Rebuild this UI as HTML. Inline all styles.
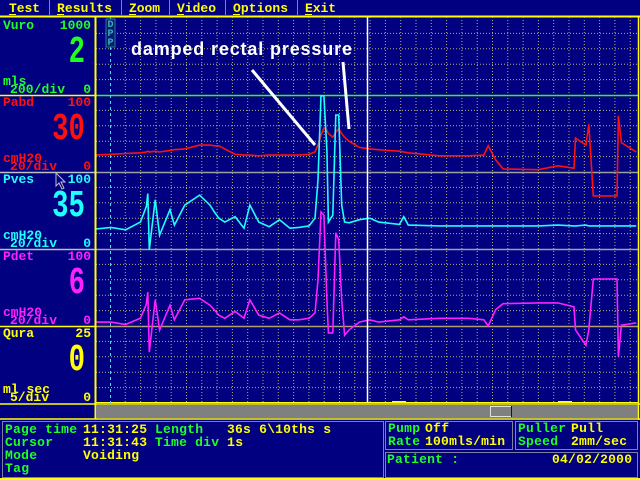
<!DOCTYPE html>
<html><head><meta charset="utf-8"><style>
html,body{margin:0;padding:0;background:#000080;}
svg{display:block;}
text{font-family:"Liberation Mono",monospace;font-weight:bold;}
</style></head><body>
<svg id="chart" width="640" height="480" viewBox="0 0 640 480" xmlns="http://www.w3.org/2000/svg">
<rect x="0" y="0" width="640" height="480" fill="#000080"/>
<g>
 <line x1="0" y1="16.5" x2="640" y2="16.5" stroke="#ffff00" stroke-width="2"/>
 <g stroke="#8080a0" stroke-width="1">
  <line x1="49.5" y1="0" x2="49.5" y2="15"/><line x1="121.5" y1="0" x2="121.5" y2="15"/>
  <line x1="169.5" y1="0" x2="169.5" y2="15"/><line x1="225.5" y1="0" x2="225.5" y2="15"/>
  <line x1="297.5" y1="0" x2="297.5" y2="15"/>
 </g>
 <g fill="#ffff00" font-size="13">
  <text x="9" y="12" textLength="31">Test</text>
  <text x="57" y="12" textLength="55">Results</text>
  <text x="129" y="12" textLength="31">Zoom</text>
  <text x="177" y="12" textLength="39">Video</text>
  <text x="233" y="12" textLength="55">Options</text>
  <text x="305" y="12" textLength="31">Exit</text>
 </g>
 <g stroke="#ffff00" stroke-width="1">
  <line x1="9" y1="14.5" x2="16" y2="14.5"/><line x1="57" y1="14.5" x2="64" y2="14.5"/>
  <line x1="129" y1="14.5" x2="136" y2="14.5"/><line x1="177" y1="14.5" x2="184" y2="14.5"/>
  <line x1="233" y1="14.5" x2="240" y2="14.5"/><line x1="305" y1="14.5" x2="312" y2="14.5"/>
 </g>
</g>

<g id="grid"></g>
<g>
 <line x1="96" y1="172.5" x2="638" y2="172.5" stroke="#a0a0a0" stroke-width="1.5"/>
 <line x1="96" y1="249.5" x2="638" y2="249.5" stroke="#a0a0a0" stroke-width="1.5"/>
 <line x1="96" y1="326.5" x2="638" y2="326.5" stroke="#b0a070" stroke-width="1.5"/>
 <line x1="96" y1="95.5" x2="638" y2="95.5" stroke="#20ff20" stroke-width="1.5"/>
 <line x1="96" y1="402.5" x2="638" y2="402.5" stroke="#ffff00" stroke-width="1"/>
 <line x1="392" y1="401.5" x2="406" y2="401.5" stroke="#ffff00" stroke-width="1"/>
 <line x1="558" y1="401.5" x2="572" y2="401.5" stroke="#ffff00" stroke-width="1"/>
</g>
<line x1="110.5" y1="17" x2="110.5" y2="403" stroke="#40e0e0" stroke-width="1" stroke-dasharray="3,3"/>
<g>
 <rect x="106" y="19" width="9" height="28" fill="#001880" stroke="#308080" stroke-width="1"/>
 <g fill="#40b0b0" font-size="10"><text x="107.5" y="27">D</text><text x="107.5" y="36">P</text><text x="107.5" y="45">P</text></g>
</g>
<g id="traces"></g>
<line x1="367.5" y1="17" x2="367.5" y2="403" stroke="#ffffff" stroke-width="1.5"/>

<g>
 <text x="131" y="55" fill="#ffffff" font-size="18" style="font-family:'Liberation Sans',sans-serif;font-weight:bold" textLength="221">damped rectal pressure</text>
 <line x1="252" y1="70" x2="315" y2="145" stroke="#ffffff" stroke-width="3"/>
 <line x1="343" y1="62" x2="349" y2="129" stroke="#ffffff" stroke-width="3"/>
</g>

<g>
 <line x1="95.5" y1="17" x2="95.5" y2="419" stroke="#ffff00" stroke-width="2"/>
 <line x1="0" y1="95.5" x2="95" y2="95.5" stroke="#ffff00" stroke-width="1.5"/>
 <line x1="0" y1="172.5" x2="95" y2="172.5" stroke="#c0c0c0" stroke-width="1.5"/>
 <line x1="0" y1="249.5" x2="95" y2="249.5" stroke="#c0c0c0" stroke-width="1.5"/>
 <line x1="0" y1="326.5" x2="95" y2="326.5" stroke="#ffff00" stroke-width="1.5"/>
 <line x1="0" y1="404" x2="640" y2="404" stroke="#ffff00" stroke-width="1.5"/>
 <g fill="#20ff20">
  <text x="3" y="29" font-size="13" textLength="31">Vuro</text>
  <text x="91" y="29" font-size="13" text-anchor="end">1000</text>
  <text x="85" y="62" font-size="38" text-anchor="end" transform="translate(85,62) scale(0.72,1) translate(-85,-62)">2</text>
  <text x="3" y="85" font-size="13">mls</text>
  <text x="10" y="93" font-size="13" textLength="55">200/div</text>
  <text x="91" y="93" font-size="13" text-anchor="end">0</text>
 </g>
 <g fill="#ff1010">
  <text x="3" y="106" font-size="13" textLength="31">Pabd</text>
  <text x="91" y="106" font-size="13" text-anchor="end">100</text>
  <text x="85" y="139" font-size="38" text-anchor="end" transform="translate(85,139) scale(0.72,1) translate(-85,-139)">30</text>
  <text x="3" y="162" font-size="13" textLength="39">cmH20</text>
  <text x="10" y="170" font-size="13" textLength="47">20/div</text>
  <text x="91" y="170" font-size="13" text-anchor="end">0</text>
 </g>
 <g fill="#20ffff">
  <text x="3" y="183" font-size="13" textLength="31">Pves</text>
  <text x="91" y="183" font-size="13" text-anchor="end">100</text>
  <text x="85" y="216" font-size="38" text-anchor="end" transform="translate(85,216) scale(0.72,1) translate(-85,-216)">35</text>
  <text x="3" y="239" font-size="13" textLength="39">cmH20</text>
  <text x="10" y="247" font-size="13" textLength="47">20/div</text>
  <text x="91" y="247" font-size="13" text-anchor="end">0</text>
 </g>
 <g fill="#ff20ff">
  <text x="3" y="260" font-size="13" textLength="31">Pdet</text>
  <text x="91" y="260" font-size="13" text-anchor="end">100</text>
  <text x="85" y="293" font-size="38" text-anchor="end" transform="translate(85,293) scale(0.72,1) translate(-85,-293)">6</text>
  <text x="3" y="316" font-size="13" textLength="39">cmH20</text>
  <text x="10" y="324" font-size="13" textLength="47">20/div</text>
  <text x="91" y="324" font-size="13" text-anchor="end">0</text>
 </g>
 <g fill="#ffff00">
  <text x="3" y="337" font-size="13" textLength="31">Qura</text>
  <text x="91" y="337" font-size="13" text-anchor="end">25</text>
  <text x="85" y="370" font-size="38" text-anchor="end" transform="translate(85,370) scale(0.72,1) translate(-85,-370)">0</text>
  <text x="3" y="393" font-size="13" textLength="47">ml sec</text>
  <text x="10" y="401" font-size="13" textLength="39">5/div</text>
  <text x="91" y="401" font-size="13" text-anchor="end">0</text>
 </g>
 <polygon points="56,173 56,186 59,183 62,189 64,188 61,182 65,182" fill="#000080" stroke="#c0c0c0" stroke-width="1"/>
</g>

<g>
 <rect x="96" y="405" width="542" height="13" fill="#808080"/>
 <rect x="490.5" y="406.5" width="21" height="10" fill="#808080" stroke="#e0e0e0" stroke-width="1"/>
 <line x1="511.5" y1="406" x2="511.5" y2="417" stroke="#0000c0" stroke-width="1"/>
 <line x1="638.5" y1="17" x2="638.5" y2="420" stroke="#ffff00" stroke-width="1.5"/>
 <line x1="0" y1="419" x2="640" y2="419" stroke="#ffff00" stroke-width="1.5"/>
 <line x1="0" y1="479" x2="640" y2="479" stroke="#ffff00" stroke-width="2"/>
</g>

<g font-size="13">
 <rect x="2.5" y="421.5" width="381" height="56" fill="none" stroke="#8080a0" stroke-width="1"/>
 <rect x="385.5" y="421.5" width="127" height="28" fill="none" stroke="#8080a0" stroke-width="1"/>
 <rect x="515.5" y="421.5" width="122" height="28" fill="none" stroke="#8080a0" stroke-width="1"/>
 <rect x="385.5" y="452.5" width="252" height="25" fill="none" stroke="#8080a0" stroke-width="1"/>
 <g fill="#20ff20">
  <text x="5" y="433" textLength="72">Page time</text>
  <text x="155" y="433" textLength="48">Length</text>
  <text x="5" y="446" textLength="48">Cursor</text>
  <text x="155" y="446" textLength="64">Time div</text>
  <text x="5" y="459" textLength="32">Mode</text>
  <text x="5" y="472" textLength="24">Tag</text>
  <text x="388" y="432" textLength="32">Pump</text>
  <text x="388" y="445" textLength="32">Rate</text>
  <text x="518" y="432" textLength="48">Puller</text>
  <text x="518" y="445" textLength="40">Speed</text>
  <text x="387" y="463" textLength="72">Patient :</text>
 </g>
 <g fill="#ffff00">
  <text x="83" y="433" textLength="64">11:31:25</text>
  <text x="227" y="433" textLength="104">36s 6\10ths s</text>
  <text x="83" y="446" textLength="64">11:31:43</text>
  <text x="227" y="446" textLength="16">1s</text>
  <text x="83" y="459" textLength="56">Voiding</text>
  <text x="425" y="432" textLength="24">Off</text>
  <text x="425" y="445" textLength="80">100mls/min</text>
  <text x="571" y="432" textLength="32">Pull</text>
  <text x="571" y="445" textLength="56">2mm/sec</text>
  <text x="552" y="463" textLength="80">04/02/2000</text>
 </g>
</g>

<script>
const times = [0,1,2,3,3.4,3.5,3.6,4,4.3,5,5.3,6,7,7.7,8,8.3,8.7,9.4,10,10.4,11,11.7,12.4,13.1,13.7,14.4,14.8,15,15.2,15.4,15.6,15.7,16,16.2,16.4,16.6,16.8,17.1,17.8,18.5,19.1,20.5,20.8,21.1,23.2,25.2,26.2,26.5,27,27.5,29.9,31.2,32.3,32.4,33.1,33.3,33.6,35.2,35.3,35.5,36.5];
const pabd = [22,23,24,25,26,27,26,27,26,28,29,30,35,35,34,34,30,23,22,22,21,22,22,22,22,23,26,35,48,57,54,50,45,52,56,50,45,40,32,30,29,27,26,25,21,21,22,34,16,4,3,8,5,44,35,62,-31,-31,73,38,26];
const pves = [26,28,25,35,55,72,-1,64,18,51,31,57,70,57,48,40,35,42,27,57,35,29,38,27,28,30,40,90,199,199,128,35,44,174,174,57,35,34,38,40,35,32,42,31,30,30,30,30,30,30,30,31,30,30,31,30,30,30,30,30,30];
const pdet = [5,5,2,10,28,44,-34,34,-5,27,8,34,36,27,21,14,10,19,10,34,14,10,17,8,8,10,17,60,148,144,34,-9,-9,121,112,34,-12,-5,5,8,5,8,12,8,10,10,8,0,21,29,30,30,25,-5,-25,-5,61,61,-40,1,4];

const X0 = 96, PX_PER_S = 14.8, PX_PER_UNIT = 0.77;
function xOf(t){ return X0 + t * PX_PER_S; }
function yOf(v, zeroY){ return zeroY - v * PX_PER_UNIT; }

const NS = "http://www.w3.org/2000/svg";
const grid = document.getElementById('grid');
for (let x = 110 + 15.3; x < 638; x += 15.3) {
  const l = document.createElementNS(NS,'line');
  
  
  l.setAttribute('x1', x.toFixed(1)); l.setAttribute('x2', x.toFixed(1));
  l.setAttribute('y1', 17); l.setAttribute('y2', 403);
  l.setAttribute('stroke', '#b0b080'); l.setAttribute('stroke-width', '1'); l.setAttribute('stroke-dasharray', '1,2');
  grid.appendChild(l);
}
for (let c = 0; c < 5; c++) {
  for (let k = 1; k < 5; k++) {
    const y = 18 + c * 77 + k * 15.4;
    const l = document.createElementNS(NS,'line');
    
    
    l.setAttribute('x1', 96); l.setAttribute('x2', 638);
    l.setAttribute('y1', y.toFixed(1)); l.setAttribute('y2', y.toFixed(1));
    l.setAttribute('stroke', '#b0b080'); l.setAttribute('stroke-width', '1'); l.setAttribute('stroke-dasharray', '1,2');
    grid.appendChild(l);
  }
}
const traces = document.getElementById('traces');
function drawTrace(vals, zeroY, color, name){
  const pts = vals.map((v,i) => xOf(times[i]).toFixed(1) + ',' + yOf(v, zeroY).toFixed(1)).join(' ');
  const p = document.createElementNS(NS,'polyline');
  
  
  p.setAttribute('points', pts);
  p.setAttribute('fill', 'none'); p.setAttribute('stroke', color); p.setAttribute('stroke-width', '1.6');
  traces.appendChild(p);
}
drawTrace(pabd, 172, '#ff1010', 'pabd-trace');
drawTrace(pves, 249, '#20ffff', 'pves-trace');
drawTrace(pdet, 326, '#ff20ff', 'pdet-trace');
</script>
</svg>
</body></html>
